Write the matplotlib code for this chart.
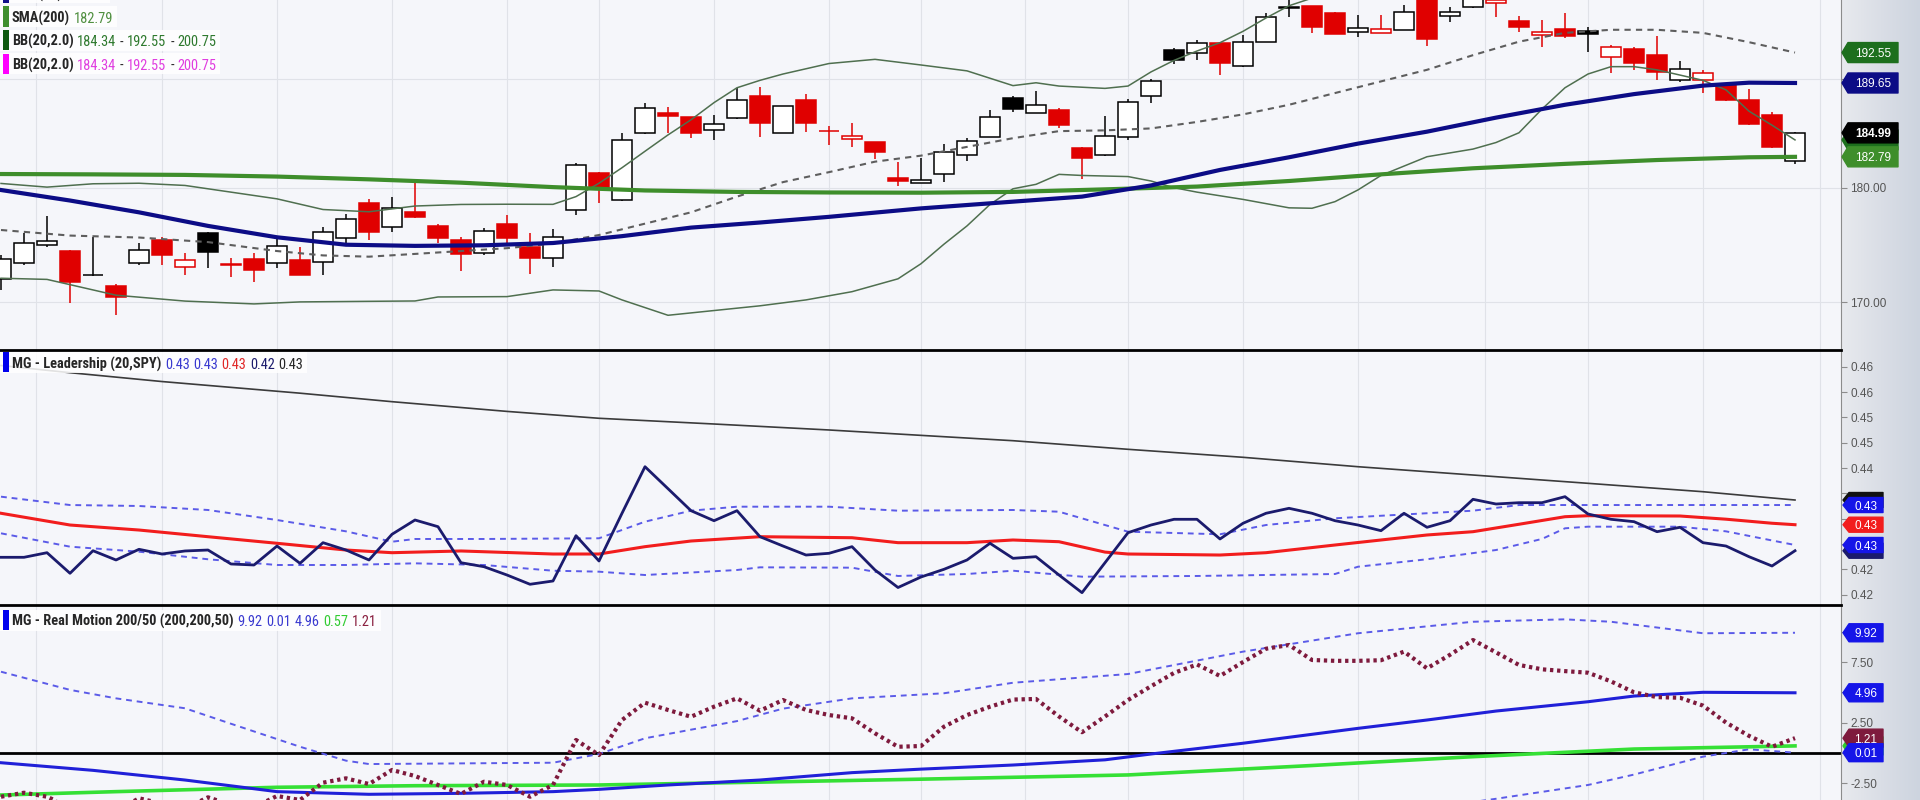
import numpy as np
import matplotlib
matplotlib.use("Agg")
import matplotlib.pyplot as plt
from matplotlib import font_manager
from matplotlib.colors import LinearSegmentedColormap
from matplotlib.patches import Polygon, Rectangle
from matplotlib.lines import Line2D
from matplotlib.text import Annotation
from matplotlib.ticker import NullLocator

# ---------------- price candles (one per session) ----------------
opens = [171.96, 173.33, 174.93, 174.43, 172.30, 171.39, 173.33, 175.37, 173.04, 176.00,
         173.27, 173.68, 173.33, 173.62, 173.47, 175.52, 178.60, 176.53, 177.86, 176.59,
         175.37, 174.20, 176.77, 174.78, 173.77, 178.01, 181.35, 178.90, 184.95, 186.80,
         186.43, 185.26, 186.34, 188.42, 185.01, 188.05, 185.20, 184.40, 184.17, 180.84,
         180.45, 181.24, 182.96, 184.64, 188.21, 186.85, 187.11, 183.63, 182.96, 184.58,
         188.42, 192.80, 192.54, 193.45, 191.27, 193.60, 196.90, 197.07, 196.35, 194.50,
         194.45, 194.73, 197.90, 196.09, 197.00, 197.35, 195.60, 194.21, 194.79, 194.66,
         192.10, 192.90, 192.32, 189.93, 189.93, 189.46, 188.05, 186.62, 182.43]
highs = [174.06, 175.95, 177.48, 174.50, 175.66, 171.56, 175.08, 175.66, 174.26, 176.05,
         173.77, 174.26, 175.52, 174.78, 176.53, 177.66, 178.96, 179.13, 180.54, 176.77,
         175.66, 176.39, 177.57, 176.00, 176.30, 182.26, 181.40, 184.95, 187.80, 187.42,
         186.45, 186.65, 189.15, 189.24, 187.50, 188.61, 185.63, 185.93, 184.17, 182.34,
         182.65, 183.96, 184.49, 187.11, 188.42, 188.92, 187.27, 183.72, 186.55, 188.12,
         190.00, 192.96, 193.76, 193.50, 194.25, 196.35, 197.67, 197.10, 196.51, 196.19,
         196.19, 197.17, 198.20, 197.00, 198.30, 197.80, 196.09, 195.70, 196.35, 195.05,
         193.28, 193.12, 194.14, 191.77, 190.88, 189.50, 189.06, 186.93, 185.03]
lows = [171.05, 173.20, 174.78, 169.97, 172.20, 168.93, 173.18, 173.18, 172.33, 172.90,
        172.19, 171.76, 172.90, 172.30, 172.33, 175.08, 175.37, 176.09, 177.30, 175.08,
        172.70, 174.06, 175.08, 172.42, 172.99, 177.57, 178.60, 178.85, 184.90, 184.95,
        184.49, 184.33, 186.30, 184.64, 185.00, 185.10, 183.87, 183.72, 182.56, 180.15,
        180.40, 180.54, 182.43, 184.60, 186.95, 186.80, 185.42, 180.75, 182.90, 184.33,
        187.80, 191.46, 191.84, 190.40, 191.20, 193.55, 196.02, 194.40, 194.30, 194.07,
        194.45, 194.70, 193.18, 195.53, 196.87, 195.97, 194.50, 193.12, 193.92, 192.64,
        190.57, 190.88, 189.93, 189.77, 188.68, 188.00, 185.75, 183.60, 182.12]
closes = [173.68, 175.13, 175.31, 171.76, 172.33, 170.43, 174.49, 174.06, 173.62, 174.35,
          173.15, 172.76, 174.84, 172.33, 176.09, 177.18, 176.09, 178.16, 177.36, 175.52,
          174.14, 176.15, 175.52, 173.77, 175.66, 182.05, 179.95, 184.33, 187.27, 186.55,
          185.01, 185.78, 188.05, 185.87, 187.49, 185.87, 185.12, 184.70, 183.26, 180.60,
          180.69, 183.26, 184.27, 186.43, 187.20, 187.58, 185.72, 182.71, 184.70, 187.89,
          189.84, 191.84, 193.45, 191.52, 193.60, 195.97, 197.00, 194.99, 194.33, 194.89,
          194.80, 196.45, 193.83, 196.45, 197.90, 197.67, 195.05, 194.56, 194.14, 194.33,
          193.12, 191.58, 190.72, 190.98, 190.63, 188.05, 185.80, 183.66, 184.99]

# ---------------- price overlays (session index, value) ----------------
sma200_idx = [0, 4, 8, 12, 16, 20, 24, 28, 32, 36, 40, 44, 48, 52, 56, 60, 64, 68, 72, 76, 78]
sma200 = [181.23, 181.20, 181.15, 181.00, 180.75, 180.45, 180.05, 179.75, 179.62, 179.57, 179.55,
          179.62, 179.85, 180.10, 180.60, 181.20, 181.75, 182.15, 182.50, 182.75, 182.79]
sma50_idx = [0, 3, 6, 9, 12, 15, 18, 21, 24, 27, 30, 33, 36, 40, 44, 47, 50, 53, 56, 59, 62, 65,
             68, 71, 74, 76, 78]
sma50 = [179.79, 178.85, 177.80, 176.60, 175.60, 174.95, 174.85, 174.90, 175.10, 175.70, 176.45,
         176.90, 177.40, 178.15, 178.75, 179.20, 180.20, 181.60, 182.75, 184.00, 185.10, 186.40,
         187.60, 188.60, 189.40, 189.68, 189.65]
bb_up_idx = [0, 2, 4, 6, 8, 10, 12, 14, 16, 18, 20, 22, 24, 25, 26, 27, 28, 29, 30, 31, 32, 33, 34,
             36, 38, 40, 42, 44, 45, 46, 48, 49, 50, 51, 52, 53, 54, 55, 56, 58, 62, 66, 70, 74, 78]
bb_up = [180.38, 180.05, 180.35, 180.40, 180.20, 179.60, 179.00, 178.05, 177.85, 178.36, 178.50,
         178.52, 178.51, 179.20, 180.40, 181.80, 183.30, 184.80, 186.20, 187.80, 189.20, 189.90,
         190.50, 191.50, 191.90, 191.36, 190.80, 189.40, 189.67, 189.36, 189.14, 189.36, 190.70,
         191.80, 192.70, 193.50, 194.60, 195.90, 197.10, 198.60, 199.80, 200.60, 201.00, 200.90,
         200.75]
bb_mid_idx = [0, 3, 6, 9, 12, 14, 16, 18, 20, 22, 24, 26, 28, 30, 32, 34, 36, 38, 40, 42, 44, 46,
              48, 50, 52, 54, 56, 58, 60, 62, 64, 66, 68, 70, 72, 74, 76, 78]
bb_mid = [176.24, 175.75, 175.58, 175.18, 174.40, 174.02, 173.91, 174.15, 174.40, 174.65, 175.05,
          175.80, 176.80, 177.80, 179.20, 180.50, 181.40, 182.35, 182.90, 183.70, 184.50, 185.15,
          185.22, 185.40, 186.00, 186.70, 187.60, 188.70, 189.80, 190.90, 192.30, 193.60, 194.45,
          194.75, 194.75, 194.45, 193.55, 192.55]
bb_lo_idx = [0, 2, 3, 5, 8, 11, 13, 16, 18, 19, 22, 24, 26, 27, 29, 31, 33, 35, 37, 39, 40, 41, 42,
             43, 44, 45, 46, 47, 49, 50, 51, 52, 54, 56, 57, 58, 59, 60, 62, 64, 65, 66, 67, 68, 69,
             70, 71, 72, 73, 74, 75, 76, 77, 78]
bb_lo = [172.05, 171.95, 171.50, 170.60, 170.10, 169.86, 170.03, 170.08, 170.11, 170.45, 170.48,
         171.05, 170.96, 170.20, 168.90, 169.30, 169.70, 170.20, 170.90, 172.00, 173.30, 175.00,
         176.60, 178.50, 179.90, 180.30, 181.20, 181.10, 181.00, 180.60, 180.00, 179.60, 178.95,
         178.20, 178.16, 178.75, 179.80, 181.10, 182.80, 183.50, 184.10, 185.00, 187.20, 189.20,
         190.50, 191.20, 191.20, 190.90, 190.40, 189.90, 189.00, 187.00, 185.70, 184.34]

# ---------------- MG - Leadership ----------------
leadership = [0.42487, 0.42487, 0.42578, 0.42171, 0.42617, 0.42434, 0.42645, 0.42552, 0.42612, 0.42631,
              0.42355, 0.42335, 0.42710, 0.42368, 0.42776, 0.42631, 0.42434, 0.42942, 0.43224, 0.43092,
              0.42380, 0.42301, 0.42137, 0.41954, 0.42019, 0.42914, 0.42414, 0.43357, 0.44277, 0.43843,
              0.43408, 0.43210, 0.43408, 0.42894, 0.42710, 0.42532, 0.42566, 0.42697, 0.42236, 0.41890,
              0.42098, 0.42250, 0.42434, 0.42764, 0.42467, 0.42499, 0.42137, 0.41788, 0.42380, 0.42973,
              0.43125, 0.43238, 0.43238, 0.42849, 0.43159, 0.43357, 0.43455, 0.43357, 0.43210, 0.43125,
              0.43013, 0.43357, 0.43080, 0.43210, 0.43633, 0.43540, 0.43566, 0.43566, 0.43685, 0.43343,
              0.43238, 0.43191, 0.42993, 0.43080, 0.42776, 0.42710, 0.42499, 0.42315, 0.42617]
lead_trend_idx = [0, 3, 7, 13, 17, 22, 26, 31, 36, 41, 44, 49, 54, 59, 64, 69, 74, 78]
lead_trend = [0.46277, 0.46135, 0.45960, 0.45730, 0.45562, 0.45370, 0.45234, 0.45121, 0.45003,
              0.44870, 0.44791, 0.44621, 0.44463, 0.44277, 0.44113, 0.43949, 0.43783, 0.43619]
lead_ma_idx = [0, 3, 6, 9, 12, 15, 17, 20, 24, 26, 28, 30, 33, 37, 39, 42, 44, 46, 48, 49, 53, 55,
               58, 62, 64, 66, 68, 69, 73, 75, 77, 78]
lead_ma = [0.43357, 0.43125, 0.43026, 0.42894, 0.42764, 0.42631, 0.42578, 0.42612, 0.42552, 0.42552,
           0.42697, 0.42809, 0.42894, 0.42874, 0.42776, 0.42776, 0.42829, 0.42795, 0.42590, 0.42552,
           0.42532, 0.42578, 0.42730, 0.42928, 0.42993, 0.43140, 0.43289, 0.43309, 0.43303, 0.43240,
           0.43160, 0.43131]
lead_up_idx = [0, 3, 6, 9, 12, 15, 17, 18, 21, 26, 28, 30, 32, 36, 39, 44, 46, 49, 53, 55, 58, 64,
               66, 78]
lead_up = [0.43685, 0.43520, 0.43501, 0.43422, 0.43224, 0.43000, 0.42795, 0.42849, 0.42849, 0.42863,
           0.43191, 0.43408, 0.43487, 0.43487, 0.43408, 0.43422, 0.43388, 0.42993, 0.42942, 0.43125,
           0.43258, 0.43408, 0.43520, 0.43520]
lead_lo_idx = [0, 3, 6, 9, 12, 15, 18, 21, 24, 26, 28, 32, 33, 37, 39, 42, 44, 47, 52, 58, 59, 62,
               65, 67, 68, 69, 73, 75, 77, 78]
lead_lo = [0.42961, 0.42697, 0.42598, 0.42448, 0.42335, 0.42335, 0.42368, 0.42335, 0.42222, 0.42203,
           0.42137, 0.42236, 0.42289, 0.42282, 0.42118, 0.42157, 0.42222, 0.42104, 0.42118, 0.42157,
           0.42301, 0.42448, 0.42631, 0.42850, 0.43060, 0.43092, 0.43092, 0.43000, 0.42820, 0.42730]

# ---------------- MG - Real Motion ----------------
real_motion = [-3.63, -3.30, -3.63, -4.50, -5.00, -4.80, -3.76, -4.20, -4.60, -3.68,
               -4.30, -4.50, -3.57, -3.90, -2.47, -2.11, -2.58, -1.42, -1.92, -2.66,
               -3.40, -2.39, -2.66, -3.63, -2.66, 1.06, -0.18, 2.71, 4.14, 3.54,
               2.98, 3.81, 4.50, 3.48, 4.36, 3.54, 3.12, 2.85, 1.61, 0.50,
               0.56, 2.16, 3.12, 3.81, 4.40, 4.45, 3.00, 1.70, 3.00, 4.36,
               5.50, 6.60, 7.30, 6.35, 7.50, 8.60, 8.91, 7.67, 7.60, 7.60,
               7.65, 8.36, 6.98, 8.10, 9.32, 8.30, 7.26, 6.90, 6.75, 6.62,
               5.90, 5.00, 4.60, 4.55, 3.90, 2.50, 1.40, 0.50, 1.21]
rm_ma_idx = [0, 4, 8, 12, 16, 20, 24, 26, 29, 33, 37, 40, 44, 48, 50, 54, 59, 62, 65, 69, 71, 74, 78]
rm_ma = [-0.82, -1.45, -2.25, -3.21, -3.43, -3.35, -3.21, -3.02, -2.66, -2.25, -1.64, -1.35, -1.01,
         -0.58, -0.10, 0.79, 2.02, 2.71, 3.45, 4.22, 4.69, 5.00, 4.96]
rm_slow_idx = [0, 5, 12, 18, 26, 34, 40, 49, 57, 64, 71, 78]
rm_slow = [-3.49, -3.21, -2.85, -2.72, -2.66, -2.39, -2.18, -1.83, -1.05, -0.32, 0.31, 0.57]
rm_up_idx = [0, 3, 5, 8, 10, 13, 15, 16, 24, 26, 28, 32, 34, 37, 41, 44, 49, 54, 59, 64, 68, 70, 74, 78]
rm_up = [6.70, 5.20, 4.50, 3.68, 2.40, 0.50, -0.65, -0.93, -0.82, -0.10, 1.20, 2.62, 3.65, 4.50,
         4.92, 5.79, 6.51, 8.36, 9.88, 10.83, 11.03, 10.83, 9.88, 9.92]
rm_lo_idx = [0, 20, 40, 55, 62, 65, 69, 71, 74, 76, 78]
rm_lo = [-10.0, -10.5, -8.0, -5.8, -4.6, -3.8, -2.66, -1.80, -0.32, 0.29, 0.01]

# ---------------- axis ticks / grid / texts ----------------
date_grid = [1.5, 7, 12, 17, 22, 26, 31, 36, 40, 44.5, 49, 54, 59, 64.5, 69, 74, 79.1]
price_ticks = [170, 180, 190]
price_tick_labels = ["170.00", "180.00", ""]
lead_ticks = [0.4175, 0.4225, 0.4275, 0.4325, 0.4375, 0.4425, 0.4475, 0.4525, 0.4575, 0.4625]
lead_tick_labels = ["0.42", "0.42", "", "", "", "0.44", "0.45", "0.45", "0.46", "0.46"]
rm_ticks = [-2.5, 0, 2.5, 5, 7.5, 10]
rm_tick_labels = ["-2.50", "", "2.50", "", "7.50", ""]

# ---------------- fonts ----------------
def pick_font(names):
    for n in names:
        try:
            font_manager.findfont(font_manager.FontProperties(family=n), fallback_to_default=False)
            return n
        except Exception:
            continue
    return "DejaVu Sans"

NARROW = pick_font(["Liberation Sans Narrow", "Roboto Condensed", "Roboto"])
SANS = pick_font(["Liberation Sans", "Arial", "Roboto"])
plt.rcParams["font.family"] = [SANS, "DejaVu Sans"]

# ---------------- figure layout ----------------
W, H = 1920, 800
PLOT_R = 1841
PLOT_BG = "#f5f6fa"
GRID = "#e0e2e8"
LEG_FS = 10.4

fig = plt.figure(figsize=(W / 100, H / 100), dpi=100)
fig.patch.set_facecolor(PLOT_BG)


def rect_px(x0, y0, x1, y1):
    return [x0 / W, 1 - y1 / H, (x1 - x0) / W, (y1 - y0) / H]


bgax = fig.add_axes([PLOT_R / W, 0, 1 - PLOT_R / W, 1])
bgax.set_zorder(-10)
cm = LinearSegmentedColormap.from_list("rbg", ["#e8eaee", "#dadee6", "#cdd4df"])
bgax.imshow(np.linspace(0, 1, 256)[None, :], aspect="auto", cmap=cm, extent=(0, 1, 0, 1))
bgax.set_axis_off()

ax1 = fig.add_axes(rect_px(0, 0, PLOT_R, 350))
ax2 = fig.add_axes(rect_px(0, 350, PLOT_R, 605))
ax3 = fig.add_axes(rect_px(0, 605, PLOT_R, 800))

for ax in (ax1, ax2, ax3):
    ax.set_facecolor(PLOT_BG)
    ax.set_xlim(-1 / 23, (PLOT_R - 1) / 23)
    for s in ("top", "left", "bottom"):
        ax.spines[s].set_visible(False)
    ax.spines["right"].set_color("#8c8c8c")
    ax.spines["right"].set_linewidth(0.8)
    ax.yaxis.tick_right()
    ax.tick_params(axis="y", which="major", direction="out", length=4, width=0.8,
                   colors="#8c8c8c", labelcolor="#555555", labelsize=8.5, pad=2.5)
    ax.tick_params(axis="x", bottom=False, labelbottom=False)
    for g in date_grid:
        ax.axvline(g, color=GRID, lw=0.8, zorder=0)

idx = np.arange(len(closes))

# ---- price panel ----
ax1.set_yscale("log")
ax1.set_ylim(166.0, 197.665)
ax1.set_yticks(price_ticks)
ax1.set_yticklabels(price_tick_labels)
ax1.yaxis.set_minor_locator(NullLocator())
for v in price_ticks:
    ax1.axhline(v, color=GRID, lw=0.8, zorder=0)

o = np.array(opens); h = np.array(highs); l = np.array(lows); c = np.array(closes)
prev = np.r_[o[0], c[:-1]]
edge = ["#000000" if cc >= pc else "#e00000" for cc, pc in zip(c, prev)]
face = ["#ffffff" if cc > oo else ec for cc, oo, ec in zip(c, o, edge)]
ax1.vlines(idx, l, h, colors=edge, lw=1.1, zorder=2)
ax1.bar(idx, np.maximum(np.abs(c - o), 0.02), bottom=np.minimum(o, c), width=0.84,
        color=face, edgecolor=edge, linewidth=1.1, zorder=3)

ax1.plot(bb_up_idx, bb_up, color="#4f6f4f", lw=1.1, zorder=4)
ax1.plot(bb_lo_idx, bb_lo, color="#4f6f4f", lw=1.1, zorder=4)
ax1.plot(bb_mid_idx, bb_mid, color="#5e5e5e", lw=1.5, ls=(0, (3, 2.5)), zorder=4)
ax1.plot(sma200_idx, sma200, color="#3e8e2b", lw=3.0, zorder=5)
ax1.plot(sma50_idx, sma50, color="#0c0c86", lw=3.0, zorder=6)

# ---- leadership panel ----
ax2.set_ylim(0.415445, 0.465833)
ax2.set_yticks(lead_ticks)
ax2.set_yticklabels(lead_tick_labels)
ax2.plot(lead_trend_idx, lead_trend, color="#3b3b3b", lw=1.2, zorder=3)
ax2.plot(lead_up_idx, lead_up, color="#5b5be8", lw=1.4, ls=(0, (3, 2.5)), zorder=3)
ax2.plot(lead_lo_idx, lead_lo, color="#5b5be8", lw=1.4, ls=(0, (3, 2.5)), zorder=3)
ax2.plot(lead_ma_idx, lead_ma, color="#f21d1d", lw=2.2, zorder=4)
ax2.plot(idx, leadership, color="#1b1b6d", lw=2.0, zorder=5)

# ---- real motion panel ----
ax3.set_ylim(-3.901, 12.215)
ax3.set_yticks(rm_ticks)
ax3.set_yticklabels(rm_tick_labels)
ax3.axhline(0, color="black", lw=2.0, zorder=2)
ax3.plot(rm_up_idx, rm_up, color="#5b5be8", lw=1.4, ls=(0, (3, 2.5)), zorder=3)
ax3.plot(rm_lo_idx, rm_lo, color="#5b5be8", lw=1.4, ls=(0, (3, 2.5)), zorder=3)
ax3.plot(rm_slow_idx, rm_slow, color="#35e035", lw=2.6, zorder=4)
ax3.plot(rm_ma_idx, rm_ma, color="#2020d8", lw=2.2, zorder=5)
ax3.plot(idx, real_motion, color="#7e1a3d", lw=3.0, ls=(0, (0.8, 0.9)), zorder=6)

# ---- panel separators ----
for ypx in (350, 605):
    fig.add_artist(Line2D([0, PLOT_R / W], [1 - ypx / H] * 2, color="black", lw=2.0,
                          transform=fig.transFigure, zorder=10))


# ---- value tags on the right axis ----
def tag(ax, value, text, color, x0, w, hgt, bold=False, z=20):
    xd, yd = ax.transData.transform((0, value))
    yc = yd
    pts = [(x0, yc), (x0 + 6, yc + hgt / 2), (x0 + w, yc + hgt / 2),
           (x0 + w, yc - hgt / 2), (x0 + 6, yc - hgt / 2)]
    pts = [(px / W, py / H) for px, py in pts]
    fig.add_artist(Polygon(pts, closed=True, facecolor=color, edgecolor=color, lw=1.0,
                           joinstyle="round", transform=fig.transFigure, zorder=z))
    if text:
        fig.text((x0 + 3 + w / 2) / W, yc / H, text, ha="center", va="center_baseline",
                 color="white", fontsize=8.5, weight="bold" if bold else "normal", zorder=z + 0.5)


# tags that sit hidden behind others in the reference are drawn as shapes only
tag(ax1, 184.34, None, "#1d6f1d", 1842, 56, 20, z=20)
tag(ax1, 182.79, "182.79", "#3e8e2b", 1842, 56, 20, z=21)
tag(ax1, 184.99, "184.99", "#000000", 1842, 56, 20, bold=True, z=22)
tag(ax1, 189.65, "189.65", "#0c0c86", 1842, 56, 20, z=23)
tag(ax1, 192.55, "192.55", "#1d6f1d", 1842, 56, 20, z=24)

tag(ax2, lead_trend[-1], None, "#111111", 1843, 40, 15, z=20)
tag(ax2, leadership[-1], None, "#1b1b6d", 1843, 40, 15, z=21)
tag(ax2, lead_up[-1], "0.43", "#1515e8", 1843, 40, 15, z=22)
tag(ax2, lead_ma[-1], "0.43", "#f21d1d", 1843, 40, 15, z=23)
tag(ax2, lead_lo[-1], "0.43", "#1515e8", 1843, 40, 15, z=24)

tag(ax3, rm_up[-1], "9.92", "#1515e8", 1843, 40, 18, z=20)
tag(ax3, rm_ma[-1], "4.96", "#1515e8", 1843, 40, 18, z=21)
tag(ax3, rm_slow[-1], None, "#2ecc2e", 1843, 40, 18, z=22)
tag(ax3, real_motion[-1], "1.21", "#7e1a3d", 1843, 40, 18, z=23)
tag(ax3, rm_lo[-1], "0.01", "#1515e8", 1843, 40, 18, z=24)

# ---- legends (top-left of each panel) ----
DARK = "#262626"
rows = []


def legend_row(yc_px, bar_color, parts):
    yc = 1 - yc_px / H
    fig.add_artist(Rectangle((3 / W, yc - 10 / H), 5.5 / W, 20 / H, transform=fig.transFigure,
                             facecolor=bar_color, edgecolor="none", zorder=31))
    txt, col, wt = parts[0]
    first = fig.text(12 / W, yc, txt, color=col, fontsize=LEG_FS, family=[NARROW, "DejaVu Sans"],
                     weight=wt, ha="left", va="center_baseline", zorder=32)
    prev_t = first
    for txt, col, wt in parts[1:]:
        ann = Annotation(txt, xy=(1, 0), xycoords=prev_t, xytext=(2.6, 0),
                         textcoords="offset points", ha="left", va="bottom", color=col,
                         fontsize=LEG_FS, family=[NARROW, "DejaVu Sans"], weight=wt,
                         annotation_clip=False, zorder=32)
        fig.add_artist(ann)
        prev_t = ann
    rows.append((yc_px, prev_t))


legend_row(-7.2, "#10108a", [("SMA(50)", DARK, "bold"), ("189.65", "#2a2aa0", "normal")])
legend_row(16.5, "#3f8f2f", [("SMA(200)", DARK, "bold"), ("182.79", "#4f8f3f", "normal")])
legend_row(40.3, "#0f5a0f", [("BB(20,2.0)", DARK, "bold"), ("184.34", "#2f7a2f", "normal"),
                             ("-", DARK, "normal"), ("192.55", "#2f7a2f", "normal"),
                             ("-", DARK, "normal"), ("200.75", "#2f7a2f", "normal")])
legend_row(63.8, "#ff00ff", [("BB(20,2.0)", DARK, "bold"), ("184.34", "#e03ee0", "normal"),
                             ("-", DARK, "normal"), ("192.55", "#e03ee0", "normal"),
                             ("-", DARK, "normal"), ("200.75", "#e03ee0", "normal")])
legend_row(362.5, "#0000ee", [("MG - Leadership (20,SPY)", DARK, "bold"),
                              ("0.43", "#3a3ad0", "normal"), ("0.43", "#3a3ad0", "normal"),
                              ("0.43", "#e02828", "normal"), ("0.42", "#1b1b6d", "normal"),
                              ("0.43", DARK, "normal")])
legend_row(620.0, "#0000ee", [("MG - Real Motion 200/50 (200,200,50)", DARK, "bold"),
                              ("9.92", "#3a3ad0", "normal"), ("0.01", "#3a3ad0", "normal"),
                              ("4.96", "#3a3ad0", "normal"), ("0.57", "#33cc33", "normal"),
                              ("1.21", "#8a2040", "normal")])

fig.canvas.draw()
renderer = fig.canvas.get_renderer()
for yc_px, last in rows:
    bb = last.get_window_extent(renderer)
    right = bb.x1 + 4
    fig.add_artist(Rectangle((0, 1 - (yc_px + 10.5) / H), right / W, 21 / H,
                             transform=fig.transFigure, facecolor="white", alpha=0.85,
                             edgecolor="none", zorder=29))

fig.savefig("out.png", dpi=100, facecolor=fig.get_facecolor())
